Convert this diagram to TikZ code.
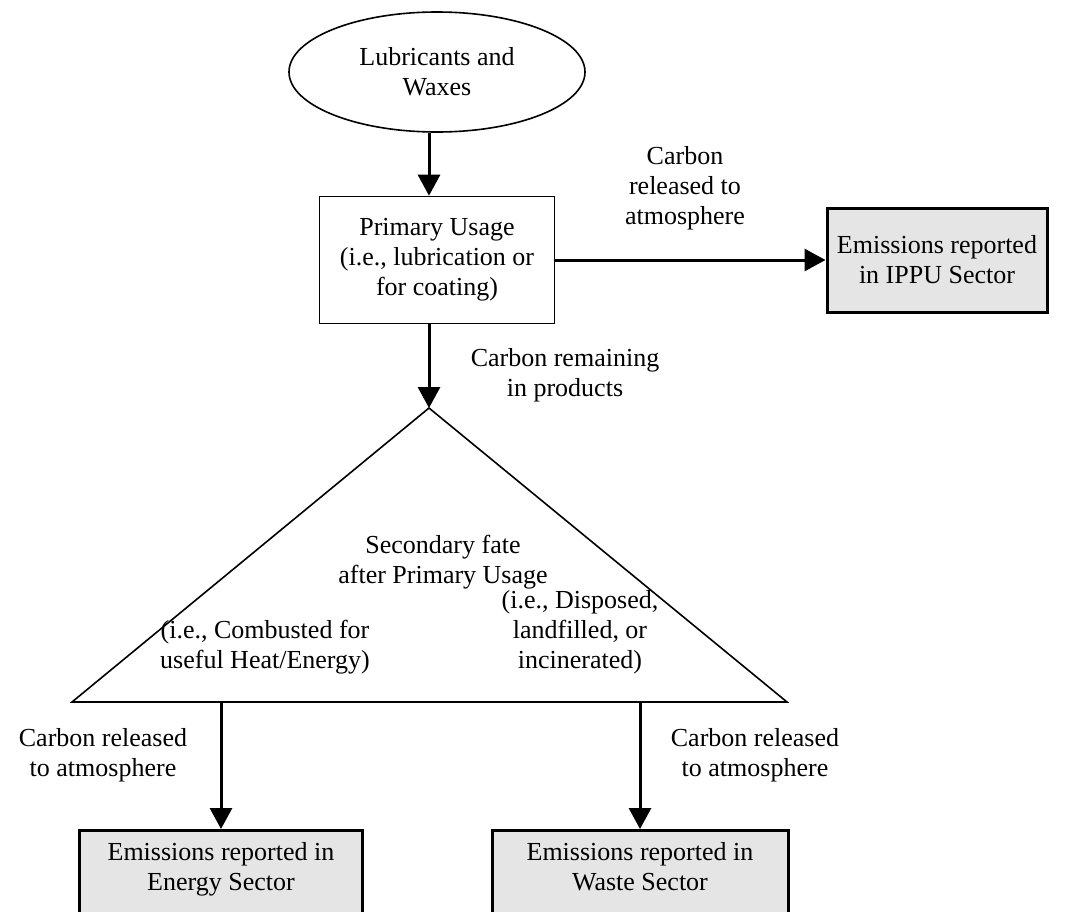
\documentclass[tikz,border=0pt]{standalone}
\usepackage{fontspec}
\setmainfont{Liberation Serif}
\usetikzlibrary{shapes,arrows,arrows.meta,positioning,calc}
\definecolor{sectorgray}{gray}{0.9}

\begin{document}
\begin{tikzpicture}[x=1pt,y=-1pt,
    font=\fontsize{26}{30}\selectfont,
    arr/.style={-{Triangle[length=21pt,width=22pt]}, line width=3pt},
    usage/.style={draw, line width=1.6pt, align=center, inner sep=0pt},
    sector/.style={draw, fill=sectorgray, line width=3pt, align=center, inner ysep=12pt},
    lbl/.style={align=center, inner sep=0pt}]
    \useasboundingbox (0,0) rectangle (1074,911);
    % source and primary usage
    \node[usage, ellipse, minimum width=296pt, minimum height=120pt] (lub) at (437,72) {Lubricants and\\Waxes};
    \node[usage, rectangle, minimum width=235pt, minimum height=127pt] (prim) at (437,260) {Primary Usage\\(i.e., lubrication or\\for coating)};
    \node[sector, minimum width=220pt, minimum height=104pt] (ippu) at (937,260) {Emissions reported\\in IPPU Sector};
    % secondary fate
    \coordinate (apex) at (429,408);
    \coordinate (bl) at (72,702);
    \coordinate (br) at (787,702);
    \draw[line width=1.6pt] (apex) -- (bl) -- (br) -- cycle;
    \node[lbl] (sec) at (443,562) {Secondary fate\\after Primary Usage};
    \node[lbl] (comb) at (265,647) {(i.e., Combusted for\\useful Heat/Energy)};
    \node[lbl] (disp) at (580,632) {(i.e., Disposed,\\landfilled, or\\incinerated)};
    % sectors at the bottom
    \node[sector, anchor=north, minimum width=283pt, text depth=60pt] (energy) at (221,829) {Emissions reported in\\Energy Sector};
    \node[sector, anchor=north, minimum width=296pt, text depth=60pt] (waste) at (640,829) {Emissions reported in\\Waste Sector};
    % flows
    \draw[arr] (lub.south -| apex) -- (prim.north -| apex);
    \draw[arr] (prim.east) -- (ippu.west);
    \draw[arr] (prim.south -| apex) -- (apex);
    \draw[arr] (energy.north |- bl) -- (energy.north);
    \draw[arr] (waste.north |- br) -- (waste.north);
    % flow labels
    \node[lbl] (relippu) at (685,188) {Carbon\\released to\\atmosphere};
    \node[lbl] (remain) at (565,375) {Carbon remaining\\in products};
    \node[lbl] (relenergy) at (103,755) {Carbon released\\to atmosphere};
    \node[lbl] (relwaste) at (755,755) {Carbon released\\to atmosphere};
\end{tikzpicture}
\end{document}
